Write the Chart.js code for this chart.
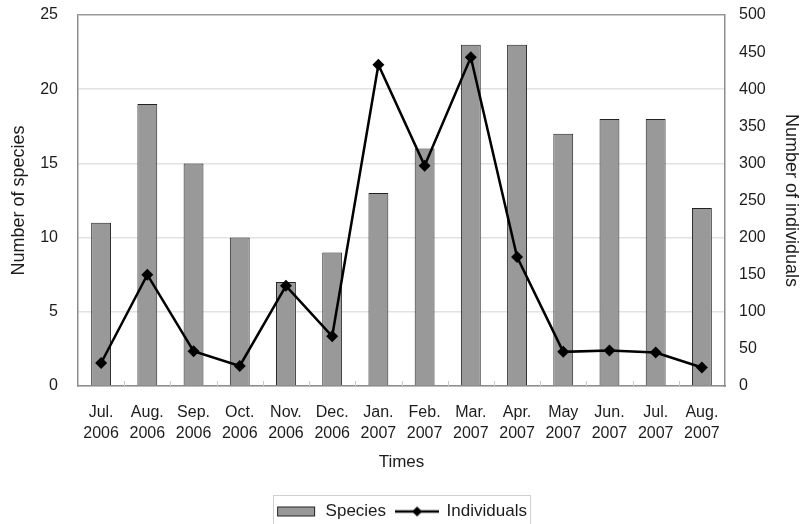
<!DOCTYPE html>
<html>
<head>
<meta charset="utf-8">
<title>Species and individuals</title>
<script src="https://cdn.jsdelivr.net/npm/chart.js@4.4.1/dist/chart.umd.min.js"></script>
<style>
    html, body { margin: 0; padding: 0; background: #fff; }
    #wrap { width: 802px; height: 524px; }
</style>
</head>
<body>
<div id="wrap"><canvas id="speciesChart" width="802" height="524"></canvas></div>
<script>
/* ========================================
   Data
   ======================================== */
const months = [
    ['Jul.', '2006'], ['Aug.', '2006'], ['Sep.', '2006'], ['Oct.', '2006'],
    ['Nov.', '2006'], ['Dec.', '2006'], ['Jan.', '2007'], ['Feb.', '2007'],
    ['Mar.', '2007'], ['Apr.', '2007'], ['May', '2007'], ['Jun.', '2007'],
    ['Jul.', '2007'], ['Aug.', '2007']
];
const speciesCounts = [11, 19, 15, 10, 7, 9, 13, 16, 23, 23, 17, 18, 18, 12];
const individualCounts = [31, 150, 47, 27, 135, 67, 433, 297, 443, 174, 46, 48, 45, 25];
const speciesTicks = [0, 5, 10, 15, 20, 25];
const individualTicks = [0, 50, 100, 150, 200, 250, 300, 350, 400, 450, 500];

const FONT = '"Liberation Sans", Arial, sans-serif';
const TEXT = '#1c1c1c';

// legend swatches (bar box and line with diamond)
function makeBarSwatch() {
    const c = document.createElement('canvas');
    c.width = 40; c.height = 12;
    const g = c.getContext('2d');
    g.fillStyle = '#999999';
    g.fillRect(1, 1, 38, 10);
    g.strokeStyle = '#222';
    g.lineWidth = 1;
    g.strokeRect(1.5, 1.5, 37, 9);
    return c;
}

function makeLineSwatch() {
    const c = document.createElement('canvas');
    c.width = 44; c.height = 12;
    const g = c.getContext('2d');
    g.strokeStyle = '#000';
    g.lineWidth = 2.5;
    g.beginPath(); g.moveTo(0, 6); g.lineTo(44, 6); g.stroke();
    g.fillStyle = '#000';
    g.beginPath(); g.moveTo(22, 1); g.lineTo(27, 6); g.lineTo(22, 11); g.lineTo(17, 6); g.closePath(); g.fill();
    return c;
}

const swatches = [makeBarSwatch(), makeLineSwatch()];

// border round the legend, small inside ticks on the x axis
const extrasPlugin = {
    id: 'extras',
    afterDraw(chart) {
        const ctx = chart.ctx;
        const x = chart.scales.x;
        const half = (x.getPixelForValue(1) - x.getPixelForValue(0)) / 2;
        ctx.save();
        ctx.strokeStyle = '#c8c8c8';
        ctx.lineWidth = 1;
        for (let i = 1; i < months.length; i++) {
            const px = Math.round(x.getPixelForValue(i) - half) + 0.5;
            ctx.beginPath();
            ctx.moveTo(px, x.top);
            ctx.lineTo(px, x.top - 5);
            ctx.stroke();
        }

        const boxes = chart.legend.legendHitBoxes || [];
        if (boxes.length) {
            const left = Math.min(...boxes.map(b => b.left)) - 2;
            const right = Math.max(...boxes.map(b => b.left + b.width)) + 3;
            const top = Math.min(...boxes.map(b => b.top)) - 8;
            ctx.strokeStyle = '#d0d0d0';
            ctx.strokeRect(Math.round(left) + 0.5, Math.round(top) + 0.5, Math.round(right - left), chart.height);
        }
        ctx.restore();
    }
};

new Chart(document.getElementById('speciesChart'), {
    data: {
        labels: months,
        datasets: [
            {
                type: 'bar',
                label: 'Species',
                data: speciesCounts,
                yAxisID: 'y',
                backgroundColor: '#999999',
                borderColor: '#222222',
                borderWidth: 1,
                barPercentage: 0.43,
                categoryPercentage: 1,
                order: 2
            },
            {
                type: 'line',
                label: 'Individuals',
                data: individualCounts,
                yAxisID: 'y1',
                borderColor: '#000000',
                backgroundColor: '#000000',
                borderWidth: 2.5,
                pointStyle: 'rectRot',
                pointRadius: 6,
                pointBorderWidth: 0,
                tension: 0,
                order: 1
            }
        ]
    },
    options: {
        animation: false,
        responsive: false,
        layout: { padding: { top: 15, left: 0, right: 0, bottom: -6 } },
        plugins: {
            tooltip: { enabled: false },
            legend: {
                position: 'bottom',
                labels: {
                    usePointStyle: true,
                    pointStyleWidth: 42,
                    boxHeight: 12,
                    padding: 10,
                    color: TEXT,
                    font: { family: FONT, size: 17 },
                    sort: (a, b) => a.datasetIndex - b.datasetIndex,
                    generateLabels(chart) {
                        const items = Chart.defaults.plugins.legend.labels.generateLabels(chart);
                        items.forEach(it => { it.pointStyle = swatches[it.datasetIndex]; });
                        return items;
                    }
                }
            }
        },
        scales: {
            x: {
                offset: true,
                grid: { display: false },
                border: { color: '#8c8c8c', width: 1.5 },
                ticks: {
                    color: TEXT,
                    padding: 8,
                    maxRotation: 0,
                    autoSkip: false,
                    font: { family: FONT, size: 16, lineHeight: 1.3 }
                },
                title: {
                    display: true,
                    text: 'Times',
                    color: TEXT,
                    font: { family: FONT, size: 17 },
                    padding: { top: 0, bottom: 20 }
                },
                afterFit: scale => { scale.height = 107; }
            },
            y: {
                position: 'left',
                min: 0,
                max: 25,
                afterBuildTicks: scale => { scale.ticks = speciesTicks.map(v => ({ value: v })); },
                grid: {
                    drawTicks: true,
                    tickLength: 17,
                    tickColor: 'rgba(0,0,0,0)',
                    color: ctx => ctx.tick && ctx.tick.value === 25 ? '#9a9a9a' : '#e2e2e2',
                    lineWidth: 1.5
                },
                border: { color: '#8c8c8c', width: 1.5 },
                ticks: {
                    color: TEXT,
                    padding: 3,
                    font: { family: FONT, size: 16 }
                },
                title: {
                    display: true,
                    text: 'Number of species',
                    color: TEXT,
                    font: { family: FONT, size: 18 },
                    padding: { top: 8, bottom: 0 }
                },
                afterFit: scale => { scale.width = 78; }
            },
            y1: {
                position: 'right',
                min: 0,
                max: 500,
                afterBuildTicks: scale => { scale.ticks = individualTicks.map(v => ({ value: v })); },
                grid: {
                    drawOnChartArea: false,
                    drawTicks: true,
                    tickLength: 11,
                    tickColor: 'rgba(0,0,0,0)'
                },
                border: { color: '#8c8c8c', width: 1.5 },
                ticks: {
                    color: TEXT,
                    padding: 3,
                    font: { family: FONT, size: 16 }
                },
                title: {
                    display: true,
                    text: 'Number of individuals',
                    color: TEXT,
                    font: { family: FONT, size: 18 },
                    padding: { top: 0, bottom: 1 }
                },
                afterFit: scale => { scale.width = 77; }
            }
        }
    },
    plugins: [extrasPlugin]
});
</script>
</body>
</html>
